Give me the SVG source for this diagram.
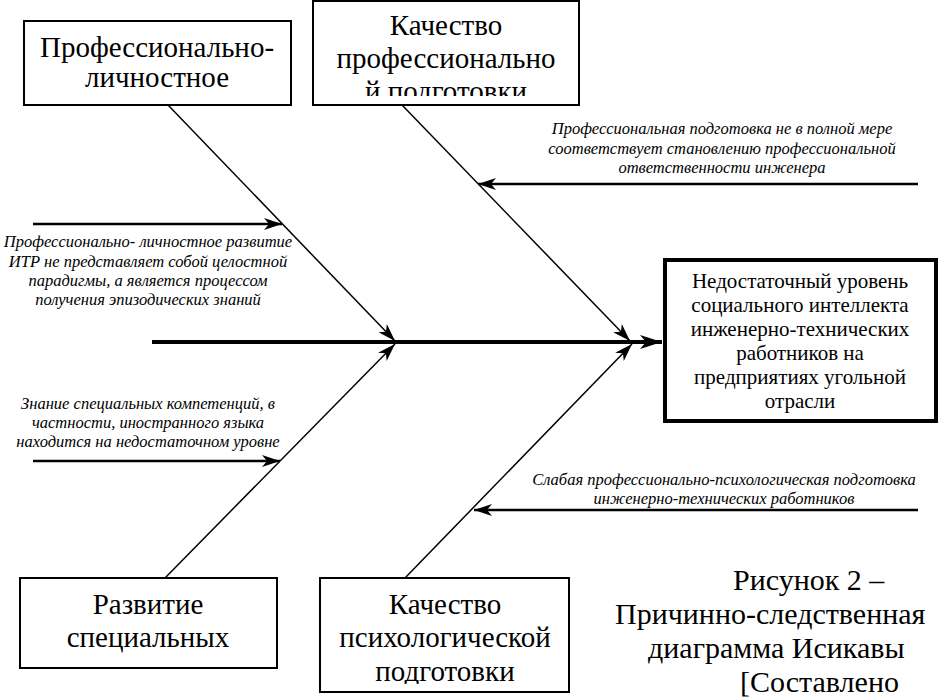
<svg xmlns="http://www.w3.org/2000/svg" width="939" height="698" viewBox="0 0 939 698">
<defs>
<marker id="ah" viewBox="0 0 18 12" refX="18" refY="6" markerWidth="18" markerHeight="12" markerUnits="userSpaceOnUse" orient="auto"><path d="M0,0 L18,6 L0,12 L5,6 Z" fill="#000"/></marker>
<marker id="ahs" viewBox="0 0 22 14" refX="22" refY="7" markerWidth="22" markerHeight="14" markerUnits="userSpaceOnUse" orient="auto"><path d="M0,0 L22,7 L0,14 L6,7 Z" fill="#000"/></marker>
<clipPath id="c2"><rect x="313" y="0" width="266" height="96"/></clipPath>
<clipPath id="c4"><rect x="320" y="578" width="249" height="106"/></clipPath>
</defs>
<g id="connectors" stroke="#000" fill="none">
<line stroke-width="4" x1="152" y1="342" x2="662" y2="342" marker-end="url(#ahs)"/>
<line stroke-width="1.5" x1="168" y1="105" x2="395" y2="341" marker-end="url(#ah)"/>
<line stroke-width="1.5" x1="402" y1="105" x2="630" y2="341" marker-end="url(#ah)"/>
<line stroke-width="1.5" x1="165" y1="578" x2="395" y2="344" marker-end="url(#ah)"/>
<line stroke-width="1.5" x1="405" y1="578" x2="632" y2="344" marker-end="url(#ah)"/>
<line stroke-width="2.5" x1="33" y1="224" x2="282" y2="224" marker-end="url(#ah)"/>
<line stroke-width="2.5" x1="918" y1="184" x2="478" y2="184" marker-end="url(#ah)"/>
<line stroke-width="2.5" x1="33" y1="461" x2="280" y2="461" marker-end="url(#ah)"/>
<line stroke-width="2.5" x1="918" y1="510" x2="474" y2="510" marker-end="url(#ah)"/>
</g>
<g id="cause1">
<rect fill="#fff" stroke="#000" stroke-width="2" x="24" y="21" width="267" height="84"/>
<text style="font-family:'Liberation Serif',serif;font-size:29px" text-anchor="middle" x="157" y="57">Профессионально-</text>
<text style="font-family:'Liberation Serif',serif;font-size:29px" text-anchor="middle" x="157" y="87">личностное</text>
</g>
<g id="cause2">
<rect fill="#fff" stroke="#000" stroke-width="2" x="313" y="1" width="266" height="104"/>
<g clip-path="url(#c2)">
<text style="font-family:'Liberation Serif',serif;font-size:29px" text-anchor="middle" x="446" y="35">Качество</text>
<text style="font-family:'Liberation Serif',serif;font-size:29px" text-anchor="middle" x="446" y="68">профессионально</text>
<text style="font-family:'Liberation Serif',serif;font-size:29px" text-anchor="middle" x="446" y="101">й подготовки</text>
</g>
</g>
<g id="cause3">
<rect fill="#fff" stroke="#000" stroke-width="2" x="20" y="578" width="257" height="90"/>
<text style="font-family:'Liberation Serif',serif;font-size:29px" text-anchor="middle" x="148" y="614">Развитие</text>
<text style="font-family:'Liberation Serif',serif;font-size:29px" text-anchor="middle" x="148" y="647">специальных</text>
</g>
<g id="cause4">
<rect fill="#fff" stroke="#000" stroke-width="2" x="320" y="578" width="249" height="114"/>
<g clip-path="url(#c4)">
<text style="font-family:'Liberation Serif',serif;font-size:29px" text-anchor="middle" x="445" y="614">Качество</text>
<text style="font-family:'Liberation Serif',serif;font-size:29px" text-anchor="middle" x="445" y="647">психологической</text>
<text style="font-family:'Liberation Serif',serif;font-size:29px" text-anchor="middle" x="445" y="681">подготовки</text>
</g>
</g>
<g id="effect">
<rect fill="#fff" stroke="#000" stroke-width="4" x="665" y="260" width="271" height="161"/>
<text style="font-family:'Liberation Serif',serif;font-size:21px" text-anchor="middle" x="800" y="288">Недостаточный уровень</text>
<text style="font-family:'Liberation Serif',serif;font-size:21px" text-anchor="middle" x="800" y="312">социального интеллекта</text>
<text style="font-family:'Liberation Serif',serif;font-size:21px" text-anchor="middle" x="800" y="336">инженерно-технических</text>
<text style="font-family:'Liberation Serif',serif;font-size:21px" text-anchor="middle" x="800" y="360">работников на</text>
<text style="font-family:'Liberation Serif',serif;font-size:21px" text-anchor="middle" x="800" y="384">предприятиях угольной</text>
<text style="font-family:'Liberation Serif',serif;font-size:21px" text-anchor="middle" x="800" y="408">отрасли</text>
</g>
<g id="label1">
<text style="font-family:'Liberation Serif',serif;font-size:16.5px;font-style:italic" text-anchor="middle" x="148" y="247">Профессионально- личностное развитие</text>
<text style="font-family:'Liberation Serif',serif;font-size:16.5px;font-style:italic" text-anchor="middle" x="148" y="267">ИТР не представляет собой целостной</text>
<text style="font-family:'Liberation Serif',serif;font-size:16.5px;font-style:italic" text-anchor="middle" x="148" y="286">парадигмы, а является процессом</text>
<text style="font-family:'Liberation Serif',serif;font-size:16.5px;font-style:italic" text-anchor="middle" x="148" y="305">получения эпизодических знаний</text>
</g>
<g id="label2">
<text style="font-family:'Liberation Serif',serif;font-size:16.5px;font-style:italic" text-anchor="middle" x="722" y="134">Профессиональная подготовка не в полной мере</text>
<text style="font-family:'Liberation Serif',serif;font-size:16.5px;font-style:italic" text-anchor="middle" x="722" y="154">соответствует становлению профессиональной</text>
<text style="font-family:'Liberation Serif',serif;font-size:16.5px;font-style:italic" text-anchor="middle" x="722" y="173">ответственности инженера</text>
</g>
<g id="label3">
<text style="font-family:'Liberation Serif',serif;font-size:16.5px;font-style:italic" text-anchor="middle" x="148" y="409">Знание специальных компетенций, в</text>
<text style="font-family:'Liberation Serif',serif;font-size:16.5px;font-style:italic" text-anchor="middle" x="148" y="428">частности, иностранного языка</text>
<text style="font-family:'Liberation Serif',serif;font-size:16.5px;font-style:italic" text-anchor="middle" x="148" y="447">находится на недостаточном уровне</text>
</g>
<g id="label4">
<text style="font-family:'Liberation Serif',serif;font-size:16.5px;font-style:italic" text-anchor="middle" x="724" y="485">Слабая профессионально-психологическая подготовка</text>
<text style="font-family:'Liberation Serif',serif;font-size:16.5px;font-style:italic" text-anchor="middle" x="724" y="504">инженерно-технических работников</text>
</g>
<g id="caption">
<text style="font-family:'Liberation Serif',serif;font-size:30px" x="733" y="590">Рисунок 2 –</text>
<text style="font-family:'Liberation Serif',serif;font-size:30px" x="615" y="624">Причинно-следственная</text>
<text style="font-family:'Liberation Serif',serif;font-size:30px" x="648" y="658">диаграмма Исикавы</text>
<text style="font-family:'Liberation Serif',serif;font-size:30px" x="740" y="692">[Составлено</text>
</g>
</svg>
